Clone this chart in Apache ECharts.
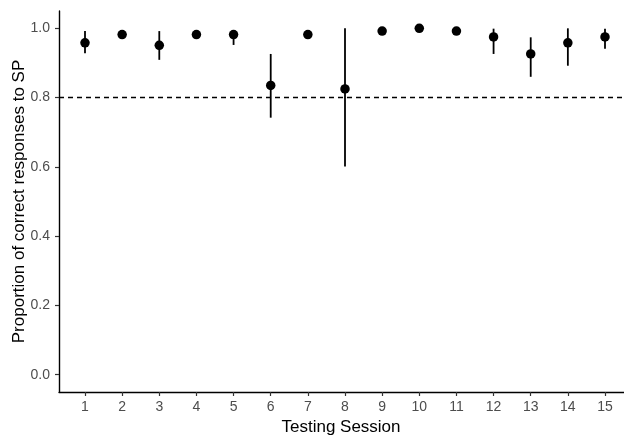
<!DOCTYPE html>
<html>
<head>
<meta charset="utf-8">
<script src="https://cdn.jsdelivr.net/npm/echarts@6/dist/echarts.min.js"></script>
<style>
  html, body { margin: 0; padding: 0; background: #fff; }
  #chart { width: 624px; height: 438px; }
</style>
</head>
<body>
<div id="chart"></div>
<script>
const sessions = [1, 2, 3, 4, 5, 6, 7, 8, 9, 10, 11, 12, 13, 14, 15]
const means = [0.958, 0.982, 0.951, 0.982, 0.982, 0.835, 0.982, 0.825, 0.992, 1.0, 0.992, 0.975, 0.926, 0.958, 0.975]
const lower = [0.928, 0.972, 0.909, 0.972, 0.952, 0.742, 0.972, 0.601, 0.985, 1.0, 0.985, 0.926, 0.860, 0.892, 0.941]
const upper = [0.992, 0.994, 0.992, 0.994, 0.994, 0.926, 0.994, 1.0, 1.0, 1.0, 1.0, 0.999, 0.974, 1.0, 0.999]
const yTicks = [0, 0.2, 0.4, 0.6, 0.8, 1.0]
const criterion = 0.8

const chart = echarts.init(document.getElementById('chart'))

const font = 'Liberation Sans, Arial, sans-serif'
const tickLabel = { color: '#4d4d4d', fontSize: 14, fontFamily: font }

const option = {
  animation: false,
  grid: { left: 59, right: -7, top: 11, bottom: 46, outerBoundsMode: 'none', containLabel: false },
  xAxis: {
    type: 'value',
    min: 0.3,
    max: 15.7,
    name: 'Testing Session',
    nameLocation: 'middle',
    nameGap: 27,
    nameMoveOverlap: false,
    nameTextStyle: { color: '#000', fontSize: 17, fontFamily: font, padding: [0, 0, 0, -8] },
    axisLine: { onZero: false, lineStyle: { color: '#000', width: 1.4 } },
    axisTick: { customValues: sessions, length: 4, lineStyle: { color: '#333', width: 1.2 } },
    axisLabel: Object.assign({ customValues: sessions, margin: 8 }, tickLabel),
    splitLine: { show: false }
  },
  yAxis: {
    type: 'value',
    min: -0.05,
    max: 1.05,
    name: 'Proportion of correct responses to SP',
    nameLocation: 'middle',
    nameGap: 31,
    nameMoveOverlap: false,
    nameTextStyle: { color: '#000', fontSize: 17, fontFamily: font },
    axisLine: { show: true, onZero: false, lineStyle: { color: '#000', width: 1.4 } },
    axisTick: { show: true, customValues: yTicks, length: 4, lineStyle: { color: '#333', width: 1.2 } },
    axisLabel: Object.assign({ customValues: yTicks, margin: 9, formatter: v => v.toFixed(1) }, tickLabel),
    splitLine: { show: false }
  },
  series: [
    {
      type: 'custom',
      data: sessions.map((s, i) => [s, lower[i], upper[i]]),
      renderItem: (params, api) => {
        const a = api.coord([api.value(0), api.value(1)])
        const b = api.coord([api.value(0), api.value(2)])
        return {
          type: 'line',
          shape: { x1: a[0], y1: a[1], x2: b[0], y2: b[1] },
          style: { stroke: '#000', lineWidth: 1.8 }
        }
      },
      z: 2
    },
    {
      type: 'scatter',
      data: sessions.map((s, i) => [s, means[i]]),
      symbol: 'circle',
      symbolSize: 9.5,
      itemStyle: { color: '#000', opacity: 1 },
      z: 3,
      markLine: {
        silent: true,
        symbol: 'none',
        label: { show: false },
        lineStyle: { color: '#000', type: [5, 4], width: 1.3 },
        data: [{ yAxis: criterion }]
      }
    }
  ]
}

chart.setOption(option)
</script>
</body>
</html>
